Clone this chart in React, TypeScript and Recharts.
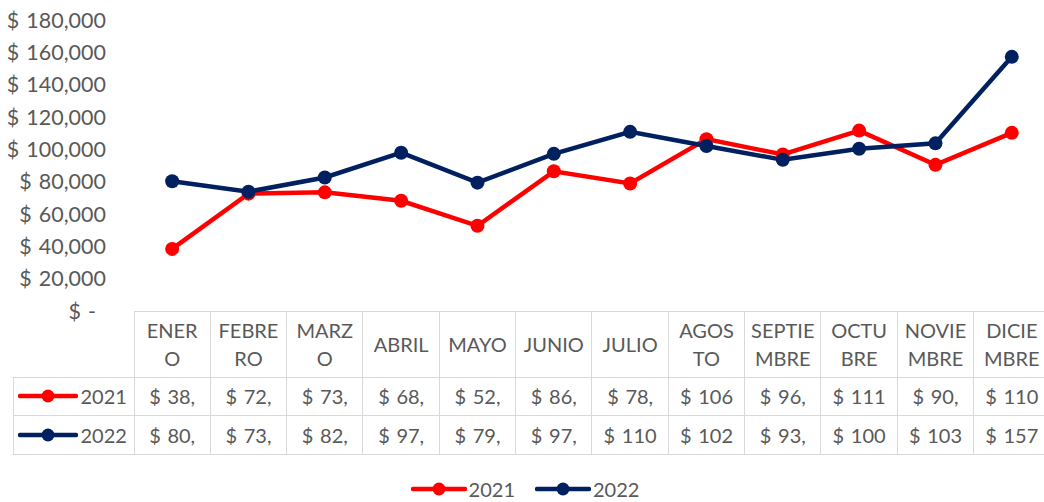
import { LineChart, Line, XAxis, YAxis } from 'recharts';

const months = ['ENERO', 'FEBRERO', 'MARZO', 'ABRIL', 'MAYO', 'JUNIO', 'JULIO', 'AGOSTO', 'SEPTIEMBRE', 'OCTUBRE', 'NOVIEMBRE', 'DICIEMBRE'];
const seriesNames = ['2021', '2022'];
const seriesColors = ['#FF0000', '#002060'];
const values2021 = [38400, 72600, 73400, 68200, 52700, 86400, 78900, 106300, 96800, 111600, 90400, 110200];
const values2022 = [80300, 73800, 82600, 97900, 79400, 97200, 110800, 102100, 93500, 100400, 103700, 157200];
const yTicks = [0, 20000, 40000, 60000, 80000, 100000, 120000, 140000, 160000, 180000];

const FONT = 'Lato, sans-serif';
const FS = 20;
const FS_AXIS = 21.5;
const TEXT = '#595959';
const BORDER = '#d9d9d9';

const PLOT_LEFT = 134;
const COL_W = 76.33;
const PLOT_TOP = 20;
const PLOT_BOTTOM = 311;
const HEADER_H = 66;
const ROW_H = 38.5;
const LEGEND_LEFT = 13;

const data = months.map((m, i) => ({ month: m, y2021: values2021[i], y2022: values2022[i] }));
const seriesValues = [values2021, values2022];
const seriesKeys = ['y2021', 'y2022'];

const canvas = typeof document !== 'undefined' ? document.createElement('canvas') : null;
const ctx = canvas ? canvas.getContext('2d') : null;

function measure(t: string) {
  if (!ctx) return t.length * FS * 0.55;
  ctx.font = `${FS}px Lato`;
  return ctx.measureText(t).width;
}

// wrap a label by characters, like excel does inside a narrow cell
function wrapChars(text: string, max: number) {
  const lines: string[] = [];
  let cur = '';
  for (const ch of text) {
    if (cur && measure(cur + ch) > max) {
      lines.push(cur);
      cur = ch;
    } else {
      cur += ch;
    }
  }
  if (cur) lines.push(cur);
  return lines;
}

// cut the text down until it fits the cell
function clipText(text: string, max: number) {
  let t = text;
  while (t.length > 1 && measure(t) > max) t = t.slice(0, -1);
  return t;
}

const GAP = '\u2004';
const fmtMoney = (v: number) => (v === 0 ? `$${GAP}-` : `$${GAP}${v.toLocaleString('en-US')}`);

const YTick = (props: any) => {
  const { x, y, payload } = props;
  const v = payload.value as number;
  return (
    <text x={v === 0 ? x - 10 : x} y={y} dy="0.36em" textAnchor="end" fill={TEXT} fontSize={FS_AXIS} fontFamily={FONT}>
      {fmtMoney(v)}
    </text>
  );
};

const LegendKey = ({ color, width }: { color: string; width: number }) => (
  <svg width={width} height={16} style={{ display: 'block' }}>
    <line x1={2} y1={8} x2={width - 2} y2={8} stroke={color} strokeWidth={4.5} strokeLinecap="round" />
    <circle cx={width / 2} cy={8} r={6.5} fill={color} />
  </svg>
);

export default function App() {
  const chartWidth = PLOT_LEFT + COL_W * 12;
  const cell = (left: number, top: number, w: number, h: number, extra: any = {}) => ({
    position: 'absolute' as const,
    left,
    top,
    width: w,
    height: h,
    boxSizing: 'border-box' as const,
    border: `1px solid ${BORDER}`,
    marginLeft: -0.5,
    marginTop: -0.5,
    display: 'flex',
    flexDirection: 'column' as const,
    alignItems: 'center',
    justifyContent: 'center',
    color: TEXT,
    fontSize: FS,
    fontFamily: FONT,
    lineHeight: '28px',
    overflow: 'hidden',
    whiteSpace: 'nowrap' as const,
    background: '#fff',
    ...extra,
  });

  return (
    <div style={{ position: 'absolute', left: 0, top: 0, width: 1044, height: 502, overflow: 'hidden', background: '#fff' }}>
      <div style={{ position: 'absolute', left: 0, top: 0 }}>
        <LineChart
          width={chartWidth}
          height={PLOT_BOTTOM + 20}
          data={data}
          margin={{ top: PLOT_TOP, right: 0, bottom: 20, left: 0 }}
        >
          <XAxis dataKey="month" scale="band" hide />
          <YAxis
            width={PLOT_LEFT}
            domain={[0, 180000]}
            ticks={yTicks}
            interval={0}
            axisLine={false}
            tickLine={false}
            tickSize={0}
            tickMargin={28}
            tick={<YTick />}
          />
          {seriesKeys.map((k, i) => (
            <Line
              key={k}
              type="linear"
              dataKey={k}
              name={seriesNames[i]}
              stroke={seriesColors[i]}
              strokeWidth={4.5}
              dot={{ r: 7, fill: seriesColors[i], stroke: 'none' }}
              activeDot={false}
              isAnimationActive={false}
            />
          ))}
        </LineChart>
      </div>

      {/* data table under the plot */}
      {months.map((m, i) => (
        <div key={m} style={cell(PLOT_LEFT + i * COL_W, PLOT_BOTTOM, COL_W + 1, HEADER_H + 1)}>
          {wrapChars(m, 64).map((ln, j) => (
            <div key={j}>{ln}</div>
          ))}
        </div>
      ))}
      {seriesNames.map((name, r) => (
        <div key={name}>
          <div
            style={cell(LEGEND_LEFT, PLOT_BOTTOM + HEADER_H + r * ROW_H, PLOT_LEFT - LEGEND_LEFT + 1, ROW_H + 1, {
              flexDirection: 'row',
              justifyContent: 'flex-start',
              paddingLeft: 4,
            })}
          >
            <LegendKey color={seriesColors[r]} width={60} />
            <span style={{ marginLeft: 3 }}>{name}</span>
          </div>
          {seriesValues[r].map((v, i) => (
            <div key={i} style={cell(PLOT_LEFT + i * COL_W, PLOT_BOTTOM + HEADER_H + r * ROW_H, COL_W + 1, ROW_H + 1)}>
              {clipText(fmtMoney(v), 55)}
            </div>
          ))}
        </div>
      ))}

      {/* legend at the bottom */}
      <div
        style={{
          position: 'absolute',
          left: 0,
          width: 1050,
          top: 476,
          display: 'flex',
          justifyContent: 'center',
          alignItems: 'center',
          color: TEXT,
          fontSize: FS,
          fontFamily: FONT,
          lineHeight: '26px',
        }}
      >
        {seriesNames.map((name, i) => (
          <div key={name} style={{ display: 'flex', alignItems: 'center', marginRight: i === 0 ? 20 : 0 }}>
            <LegendKey color={seriesColors[i]} width={56} />
            <span style={{ marginLeft: 2 }}>{name}</span>
          </div>
        ))}
      </div>
    </div>
  );
}
